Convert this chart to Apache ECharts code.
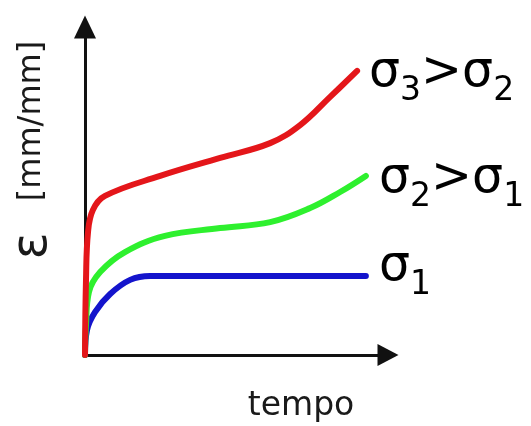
<!DOCTYPE html>
<html><head><meta charset="utf-8">
<script src="https://cdn.jsdelivr.net/npm/echarts@6/dist/echarts.min.js"></script>
<style>html,body{margin:0;padding:0;background:#fff}#c{width:531px;height:426px}</style>
</head><body><div id="c"></div>
<script>
// Curves: [tempo, strain] in arbitrary units (0..100)
const sigma3Curve = [[0,0],[0.33,22.9],[1,37.5],[2.6,44.2],[6.6,48.5],[24.8,54.6],[44.6,60.1],[61.1,64.6],[71.0,70.1],[80.9,78.7],[89.8,86.6]];
const sigma2Curve = [[0,0],[0.33,9.1],[1.3,19.2],[5,25.3],[13.2,31.4],[26.4,36.3],[44.6,38.7],[61.1,40.5],[74.3,44.8],[84.2,49.7],[92.7,54.6]];
const sigma1Curve = [[0,0],[0.66,7.6],[3.3,13.1],[8.3,18.6],[14.9,22.9],[21.5,24.1],[92.7,24.1]];
const seriesLabels = ['{a|σ}{b|3}{a|>σ}{b|2}','{a|σ}{b|2}{a|>σ}{b|1}','{a|σ}{b|1}'];
const xTitle = 'tempo';
const yTitleSym = 'ε';
const yTitleUnit = '[mm/mm]';

const FONT = 'DejaVu Sans';
const chart = echarts.init(document.getElementById('c'), null, {renderer:'canvas'});
const rich = {
  a:{fontFamily:FONT,fontSize:49,color:'#1a1a1a',verticalAlign:'bottom',padding:[0,0,10,0]},
  b:{fontFamily:FONT,fontSize:33,color:'#1a1a1a',verticalAlign:'bottom'}
};
function mkLine(data,color){
  return {type:'line',data:data,smooth:0.4,showSymbol:false,symbol:'none',
    lineStyle:{color:color,width:6,cap:'round',join:'round'},z:2,animation:false};
}
chart.setOption({
  animation:false,
  grid:{left:85,top:27,width:303,height:328},
  xAxis:{type:'value',min:0,max:100,axisLabel:{show:false},axisTick:{show:false},splitLine:{show:false},
    axisLine:{onZero:false,lineStyle:{color:'#111',width:3},symbol:['none','triangle'],symbolSize:[22,21]}},
  yAxis:{type:'value',min:0,max:100,axisLabel:{show:false},axisTick:{show:false},splitLine:{show:false},
    axisLine:{onZero:false,lineStyle:{color:'#111',width:3},symbol:['none','triangle'],symbolSize:[22,23]}},
  series:[mkLine(sigma1Curve,'#1414cc'),mkLine(sigma2Curve,'#2ef02e'),mkLine(sigma3Curve,'#e4161a')],
  graphic:[
    {type:'text',x:369,y:108,style:{text:seriesLabels[0],rich:rich,align:'left',verticalAlign:'bottom'}},
    {type:'text',x:379,y:214,style:{text:seriesLabels[1],rich:rich,align:'left',verticalAlign:'bottom'}},
    {type:'text',x:379,y:302,style:{text:seriesLabels[2],rich:rich,align:'left',verticalAlign:'bottom'}},
    {type:'text',x:301,y:406,style:{text:xTitle,fontFamily:FONT,fontSize:33,fill:'#1a1a1a',align:'center',verticalAlign:'middle'}},
    {type:'text',x:32,y:121,rotation:Math.PI/2,style:{text:yTitleUnit,fontFamily:FONT,fontSize:32,fill:'#1a1a1a',align:'center',verticalAlign:'middle'}},
    {type:'text',x:33,y:246,rotation:Math.PI/2,style:{text:yTitleSym,fontFamily:FONT,fontSize:50,fill:'#1a1a1a',align:'center',verticalAlign:'middle'}}
  ]
});
</script></body></html>
